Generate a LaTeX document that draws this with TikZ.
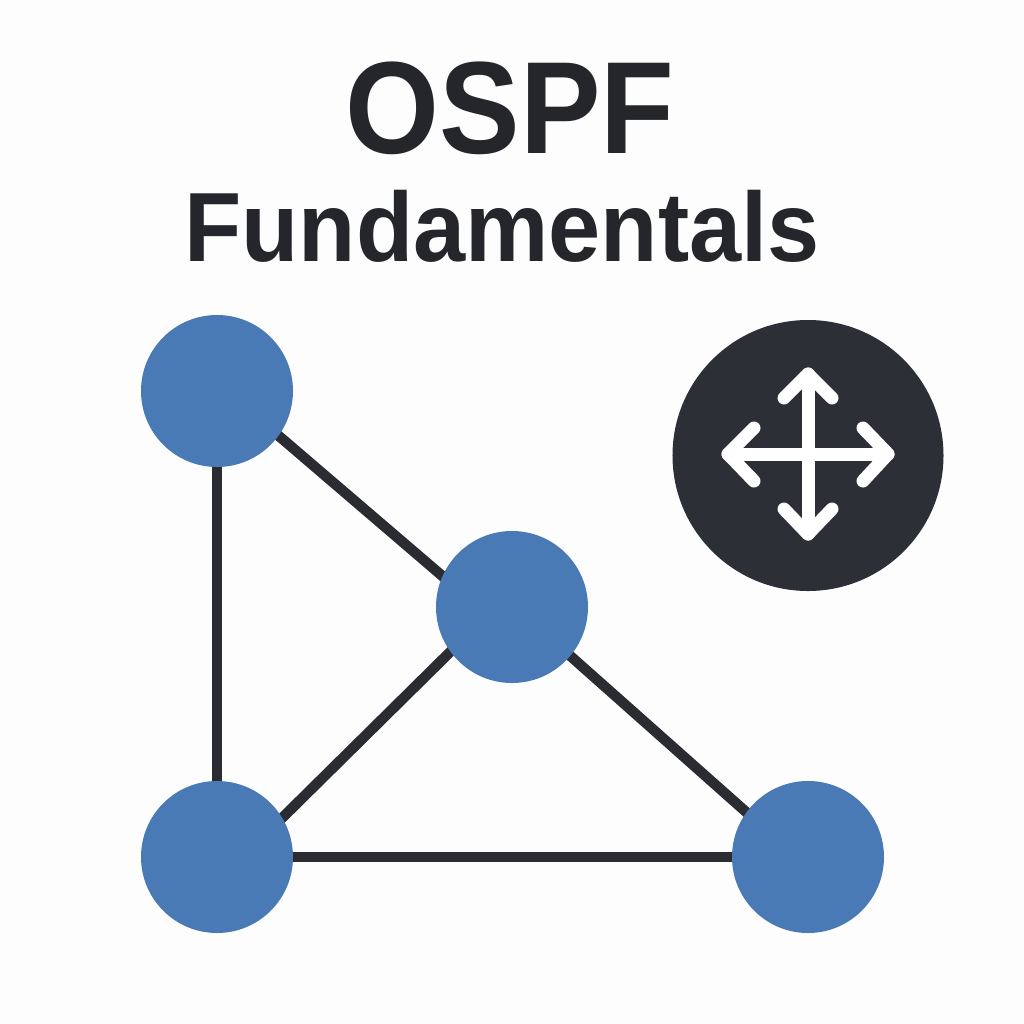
\documentclass[tikz,border=0pt]{standalone}
\usepackage{fontspec}
\setmainfont{Liberation Sans}
\newfontfamily\titlefont[FakeStretch=0.92]{Liberation Sans}
\newfontfamily\subfont[FakeStretch=0.952]{Liberation Sans}
\usetikzlibrary{backgrounds}
\definecolor{ink}{HTML}{2C2F35}
\definecolor{inkl}{HTML}{2A2C31}
\definecolor{inkt}{HTML}{24262B}
\definecolor{blu}{HTML}{4A7AB5}
\definecolor{paper}{HTML}{FDFDFD}
\tikzset{
 router/.style={circle,fill=blu,minimum size=4.56cm,inner sep=0pt,draw=none},
 link/.style={draw=inkl,line width=0.31cm,shorten >=-6pt,shorten <=-6pt},
 arr/.style={draw=white,line width=0.39cm,line cap=round,line join=round},
}
\begin{document}
\begin{tikzpicture}[x=0.03cm,y=-0.03cm]
\useasboundingbox (0,0) rectangle (1024,1024);
\node[router] (na) at (217,391) {};
\node[router] (nb) at (512,607) {};
\node[router] (nc) at (217,857) {};
\node[router] (nd) at (808,857) {};
\begin{scope}[on background layer]
\fill[paper] (0,0) rectangle (1024,1024);
\draw[link] (na)--(nc);
\draw[link] (na.-36)--(nb.156);
\draw[link] (nb.216)--(nc.31);
\draw[link] (nb.-40)--(nd.144);
\draw[link] (nc)--(nd);
\end{scope}
\node[circle,fill=ink,minimum size=8.13cm,inner sep=0pt] (hub) at (808,455.5) {};
\coordinate (n) at (808,374);
\coordinate (s) at (808,534);
\coordinate (w) at (728,454);
\coordinate (e) at (888,454);
\draw[arr] (n)--(s);
\draw[arr] (w)--(e);
\draw[arr] (784,398)--(n)--(832,398);
\draw[arr] (784,509)--(s)--(832,509);
\draw[arr] (754,428)--(w)--(754,481);
\draw[arr] (863,428)--(e)--(863,481);
\node[text=inkt,font=\titlefont\bfseries\fontsize{112}{112}\selectfont,anchor=base] (t1) at (510,153) {OSPF};
\node[text=inkt,font=\subfont\bfseries\fontsize{84}{84}\selectfont,anchor=base] (t2) at (502,261) {Fundamentals};
\end{tikzpicture}
\end{document}
